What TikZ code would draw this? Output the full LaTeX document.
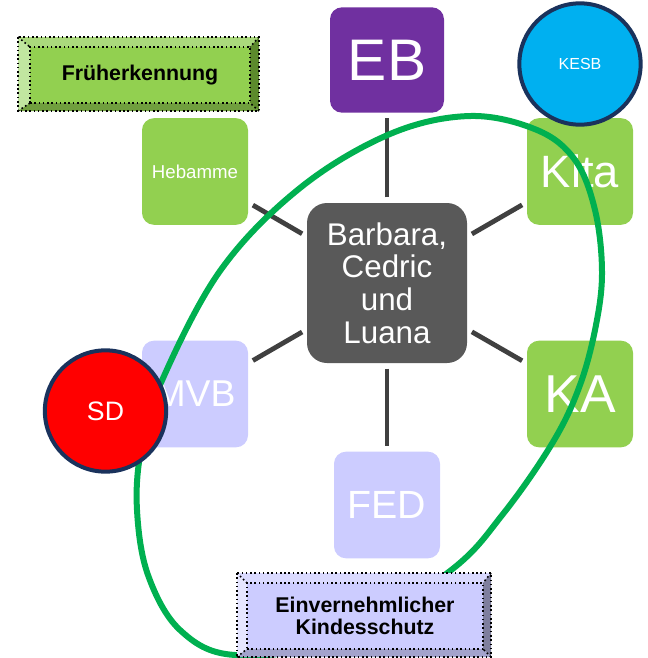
\documentclass[tikz,border=0pt]{standalone}
\usepackage{fontspec}
\setmainfont{Liberation Sans}
\usetikzlibrary{positioning}
\definecolor{leaf}{HTML}{92D050}
\definecolor{plum}{HTML}{7030A0}
\definecolor{lilac}{HTML}{CCCCFF}
\definecolor{slate}{HTML}{595959}
\definecolor{linkgray}{HTML}{404040}
\definecolor{sky}{HTML}{00B0F0}
\definecolor{navy}{HTML}{1A325C}
\definecolor{zonegreen}{HTML}{00B050}
\definecolor{leaftop}{HTML}{AAD97C}
\definecolor{leaflft}{HTML}{C1E6A0}
\definecolor{leafrgt}{HTML}{5C8A2C}
\definecolor{leafbot}{HTML}{709F3E}
\definecolor{lilactop}{HTML}{DADAFF}
\definecolor{lilaclft}{HTML}{E6E6FF}
\definecolor{lilacrgt}{HTML}{7F7F9E}
\definecolor{lilacbot}{HTML}{A3A3CC}
\tikzset{box/.style = {rounded corners = 9pt, minimum width = 79.5pt, minimum height = 80pt, text = white, inner sep = 0}}
\tikzset{link/.style = {draw = linkgray, line width = 3.6pt, shorten < = 4pt, shorten > = 4pt}}
\tikzset{ring/.style = {circle, draw = navy, line width = 3pt, minimum size = 91pt, text = white, inner sep = 0}}
\tikzset{zone/.style = {draw = zonegreen, line width = 4.5pt}}
\tikzset{face/.style = {draw, dotted, line width = 1.2pt, inner sep = 0, align = center, font = \bfseries\fontsize{16pt}{17pt}\selectfont}}
\tikzset{rim/.style = {dotted, line width = 1.2pt}}

\begin{document}
\begin{tikzpicture}[x = 0.75pt, y = -0.75pt]
  \useasboundingbox (0, 0) rectangle (648, 658);
  \node [box, fill = slate, minimum size = 120pt, rounded corners = 15pt, align = center, font = \fontsize{23.5pt}{24.5pt}\selectfont] (kids) at (387, 283) {Barbara,\\ Cedric\\ und\\ Luana};
  \node [box, fill = plum, minimum width = 85.5pt, minimum height = 79pt, font = \fontsize{44pt}{52pt}\selectfont] (eb) at (387, 60) {EB};
  \node [box, fill = leaf, font = \fontsize{14pt}{16pt}\selectfont] (heb) at (195, 171.5) {Hebamme};
  \node [box, fill = leaf, font = \fontsize{34pt}{40pt}\selectfont] (kita) at (580, 171.5) {Kita};
  \node [box, fill = lilac, font = \fontsize{28pt}{34pt}\selectfont] (mvb) at (195, 394) {MVB};
  \node [box, fill = leaf, font = \fontsize{40pt}{48pt}\selectfont] (ka) at (580, 394) {KA};
  \node [box, fill = lilac, font = \fontsize{29.5pt}{35pt}\selectfont] (fed) at (387, 505) {FED};
  \draw [link] (kids) -- (eb);
  \draw [link] (kids) -- (heb);
  \draw [link] (kids) -- (kita);
  \draw [link] (kids) -- (mvb);
  \draw [link] (kids) -- (ka);
  \draw [link] (kids) -- (fed);

  \fill [leaftop] (18, 37) -- (259, 37) -- (250, 47) -- (30, 47) -- cycle;
  \fill [leaflft] (18, 37) -- (30, 47) -- (30, 103) -- (18, 111) -- cycle;
  \fill [leafrgt] (259, 37) -- (259, 111) -- (250, 103) -- (250, 47) -- cycle;
  \fill [leafbot] (18, 111) -- (30, 103) -- (250, 103) -- (259, 111) -- cycle;
  \draw [rim] (18, 37) -- (30, 47) (259, 37) -- (250, 47) (18, 111) -- (30, 103) (259, 111) -- (250, 103);
  \draw [rim] (18, 37) rectangle (259, 111);
  \node [face, fill = leaf, minimum width = 165pt, minimum height = 42pt] (frueh) at (140, 75) {Früherkennung};

  \draw [zone] plot [smooth cycle, tension = 0.6] coordinates {(470, 116) (537, 130) (575, 160) (595, 210) (602, 271) (596, 325) (580, 385) (553, 442) (503, 514) (450, 571) (340, 640) (235, 655) (180, 630) (148, 575) (137, 510) (141, 450) (160, 385) (220, 271) (300, 188) (390, 134)};

  \node [ring, fill = sky, font = \fontsize{12pt}{14pt}\selectfont] (kesb) at (580, 64) {KESB};
  \node [ring, fill = red, font = \fontsize{20pt}{24pt}\selectfont] (sd) at (105.5, 411) {SD};

  \fill [lilactop] (237, 573) -- (491, 573) -- (483, 583) -- (247, 583) -- cycle;
  \fill [lilaclft] (237, 573) -- (247, 583) -- (247, 649) -- (237, 657) -- cycle;
  \fill [lilacrgt] (491, 573) -- (491, 657) -- (483, 649) -- (483, 583) -- cycle;
  \fill [lilacbot] (237, 657) -- (247, 649) -- (483, 649) -- (491, 657) -- cycle;
  \draw [rim] (237, 573) -- (247, 583) (491, 573) -- (483, 583) (237, 657) -- (247, 649) (491, 657) -- (483, 649);
  \draw [rim] (237, 573) rectangle (491, 657);
  \node [face, fill = lilac, minimum width = 177pt, minimum height = 49.5pt] (schutz) at (365, 616) {Einvernehmlicher\\ Kindesschutz};
\end{tikzpicture}
\end{document}
